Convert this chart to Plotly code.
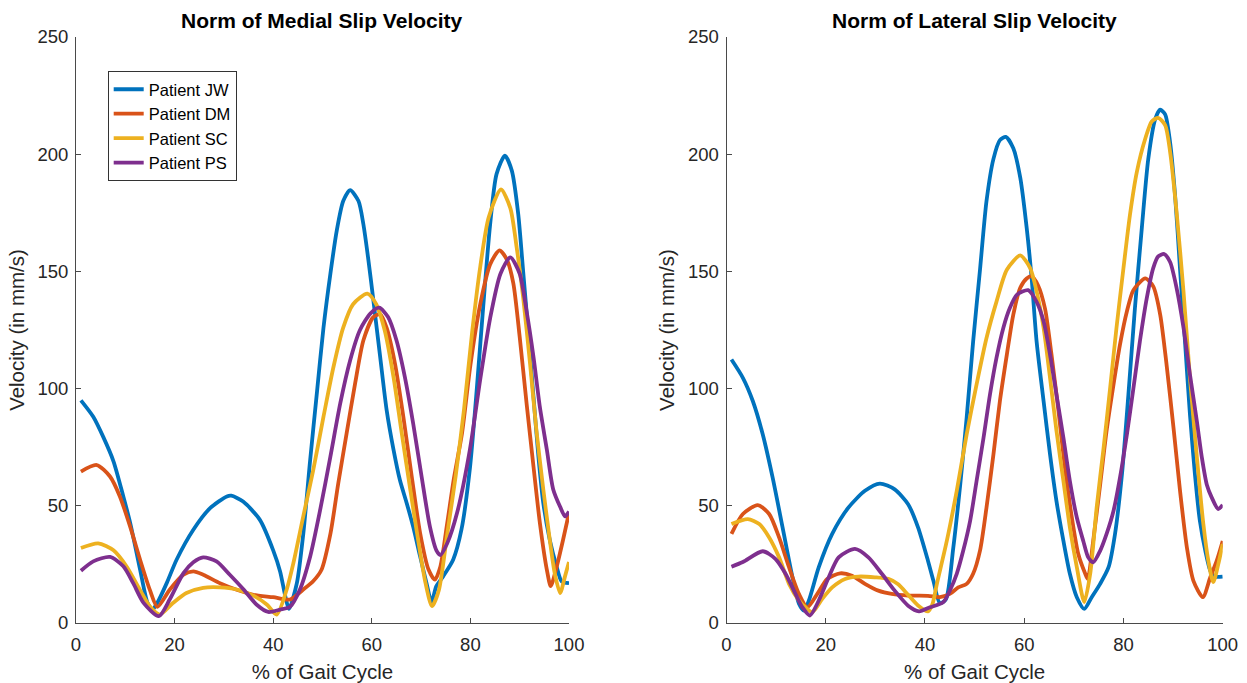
import plotly.graph_objects as go

# ---------------- data ----------------
patients = ["Patient JW", "Patient DM", "Patient SC", "Patient PS"]
colors = ["#0072BD", "#D95319", "#EDB120", "#7E2F8E"]

# Medial slip velocity
jw_m_x = [1, 3.5, 5.5, 7.6, 9.6, 11, 13, 14.5, 15.5, 16.5, 18.4, 20.4, 23.8, 27.2, 30.6, 31.5, 33.9, 37.3, 40, 41.4, 42.5, 43.2, 44.8, 46.1, 47.5, 48.9, 50.2, 51.6, 52.9, 54.2, 55.6, 57.3, 58.3, 59.3, 60.3, 61.7, 63, 64.4, 65.7, 67.1, 68.4, 69.8, 71.1, 72.1, 73.1, 74.5, 76.5, 78.2, 79.9, 81.3, 82.6, 84, 85.3, 87, 88.4, 89.7, 90.7, 91.7, 92.8, 93.8, 94.8, 96.1, 97.5, 98.5, 100]
jw_m_y = [95, 88, 79.5, 69, 54, 42.6, 22.8, 8.6, 5.7, 8.6, 17, 27, 39.8, 49, 54, 54.3, 51.8, 44, 31, 22, 11, 6, 17, 38, 69.6, 99, 126, 149, 167.5, 180, 184.7, 180, 170, 155, 138, 113.5, 91, 74, 61, 51, 41, 28.4, 17, 9, 15.7, 20, 27, 40, 66, 100, 135, 170, 191.5, 199.4, 193, 174.5, 150, 125, 96.5, 71, 51, 35.5, 24, 17.8, 17]

dm_m_x = [1, 4.2, 6.9, 8.9, 11, 13, 15, 16.5, 19, 21.8, 23.8, 25.8, 29.2, 32.6, 36, 40, 43.4, 46.1, 48.1, 49.8, 51.6, 53.2, 54.9, 56.6, 58.3, 60.3, 61.7, 63, 64.7, 66.4, 68.1, 69.8, 71.5, 72.8, 73.9, 75.3, 76.6, 78.3, 80, 82, 84, 85.9, 87.4, 88.7, 90, 91.4, 92.8, 94.1, 95.5, 96.3, 97.5, 98.8, 100]
dm_m_y = [64.6, 67.4, 62.5, 54, 41, 27, 14, 6.9, 14.2, 20.6, 22, 20.6, 17, 14.2, 12, 11, 10, 14.3, 17.8, 22.7, 38, 59.6, 81, 102, 120.6, 130.5, 131.7, 126, 110.7, 88, 62.5, 38.4, 22.8, 18.5, 24, 42.6, 61, 81, 110, 136, 153, 159, 155, 145, 122, 93.6, 66.7, 42.6, 22.8, 15.7, 24, 35.5, 47]

sc_m_x = [1, 4.5, 7.6, 10.3, 13, 15, 17, 19.7, 22.4, 25.8, 29.2, 32.6, 36, 38.7, 40.7, 42.7, 44.1, 46.1, 48.1, 50.2, 52.2, 54.2, 56.2, 59.1, 60.9, 62.6, 64.4, 66, 67.8, 69.5, 70.9, 72.2, 73.6, 75.3, 77, 78.7, 80.4, 82, 83.7, 86.2, 88.1, 89.4, 90.7, 92.1, 93.4, 94.8, 96.1, 97.1, 98.2, 99.2, 100]
sc_m_y = [32, 34, 31, 24, 14, 7, 3.6, 8.6, 12.8, 15, 15.2, 14.3, 11.7, 7.9, 3.6, 14, 25.6, 45.5, 65, 88, 109, 126, 136, 140.5, 136, 125, 105, 82, 57, 34, 17, 7.2, 14, 38, 62.5, 91, 125, 152, 173, 185, 177, 160, 139, 110.7, 82, 56.8, 35.5, 21.3, 12.8, 20, 26]

ps_m_x = [1, 3.5, 6.9, 9.6, 11.6, 13.7, 16.8, 19, 21.8, 23.8, 25.8, 28.5, 31.2, 34, 36.6, 39, 41.4, 43.4, 45.4, 47.5, 49.5, 51.6, 53.6, 55.6, 57.6, 59.7, 61.5, 63.3, 65, 66.7, 68.4, 70.1, 71.8, 73.1, 73.9, 75.3, 77.3, 79.9, 82, 84, 86.1, 88.1, 90, 91.4, 92.8, 94.1, 95.5, 96.8, 98.2, 99.2, 100]
ps_m_y = [22.3, 26.3, 28.2, 24.2, 17, 8.6, 2.9, 10, 21.3, 25.9, 28, 26.3, 20.6, 14.3, 7.9, 4.7, 5.7, 6.9, 14.2, 28.4, 48, 71, 93.7, 112, 125, 132, 134.5, 130.5, 120.6, 105, 85, 62.5, 41, 31, 29, 34, 47, 74, 104, 130, 149, 156, 149, 133, 113.5, 92, 74, 57, 49.6, 45.5, 47.6]

# Lateral slip velocity
jw_l_x = [1, 3.3, 5.3, 7.3, 9.3, 11.3, 13.3, 14.6, 15.6, 16.6, 18.6, 21.3, 24.6, 27.9, 30.9, 33.9, 36.6, 38.6, 40.6, 41.7, 43, 44.2, 45.7, 47.1, 48.4, 49.7, 51.1, 52.4, 53.8, 55.1, 56.3, 57.8, 59.2, 60.5, 61.5, 62.5, 63.9, 65.2, 66.5, 67.9, 69.2, 70.6, 72.1, 73.6, 75.3, 77, 78.3, 79.7, 81, 82.3, 83.7, 85, 86.4, 87.4, 88.4, 89.4, 90.4, 91.4, 92.4, 93.4, 94.4, 95.4, 96.5, 97.5, 98.3, 100]
jw_l_y = [112.4, 104.6, 94.7, 80.5, 62, 40.8, 19.5, 8.2, 5.3, 9.6, 23.8, 38, 49.3, 56.4, 59.5, 57, 50.7, 40.8, 26.6, 18, 8.5, 10, 32, 59, 87.6, 120, 151, 180, 198, 206, 207.4, 202.5, 190, 168.5, 147, 120, 94.7, 72, 52, 35, 21, 11, 6, 11, 16.7, 23.8, 38, 63.5, 97.5, 134, 168.5, 198, 215, 219, 217, 205, 182.6, 151, 120, 89, 63.5, 43.6, 30.8, 22.3, 19.8, 19.8]

dm_l_x = [1, 3.3, 6.3, 8.6, 10.6, 12.6, 14.6, 16.3, 18.3, 20.3, 22.9, 25.3, 27.9, 30.6, 33.3, 36.6, 40.6, 43, 45, 46.7, 48.4, 49.7, 51.1, 52.4, 53.8, 55.1, 56.5, 57.8, 59.2, 60.5, 61.5, 62.8, 64.2, 65.5, 66.9, 68.2, 69.6, 70.9, 72.3, 72.8, 73.9, 75.3, 76.6, 78, 79.3, 80.7, 82, 84.4, 86, 87.4, 88.7, 90.1, 91.4, 92.8, 94.1, 96, 97.5, 98.8, 100]
dm_l_y = [38, 46.5, 50.3, 46.5, 36.5, 23.8, 12.4, 6.7, 12.4, 18.8, 21.2, 20.2, 16.7, 13.8, 12.4, 11.7, 11.6, 11, 12.4, 15.2, 16.7, 21, 31, 49.3, 72, 94.7, 114.5, 131.6, 143, 147, 147.9, 144, 134, 114.5, 90.4, 66.3, 45, 29.4, 21, 18.8, 35, 59, 82, 101.8, 118.8, 133, 142, 147, 143.6, 131.6, 110, 83, 56.4, 32, 18, 11, 19.5, 26.6, 35]

sc_l_x = [1, 4.3, 6.6, 8.6, 10.6, 12.6, 14.6, 15.9, 17.3, 19.3, 21.3, 23.9, 26.6, 29.9, 32.6, 34.6, 36.6, 38.6, 40.6, 41.5, 42.4, 44.4, 46.4, 48.4, 50.4, 52.4, 54.4, 56.5, 59.2, 61.2, 62.5, 63.9, 65.2, 66.5, 67.9, 69.2, 70.6, 72.1, 73.3, 74.6, 76, 77.3, 78.6, 80, 81.3, 82.7, 84.4, 85.7, 87, 88.4, 89.4, 90.7, 92.1, 93.4, 94.8, 96.1, 97.1, 98.1, 99.1, 100]
sc_l_y = [42.2, 44.3, 42.2, 36.5, 28, 16.7, 9.6, 6.7, 4.6, 10.3, 15.2, 18.8, 19.8, 19.5, 18.8, 16.5, 12, 7.5, 5, 8, 16.7, 35, 56.4, 80.5, 101.8, 121.6, 137, 150.7, 156.8, 151.4, 141.5, 126, 104.6, 82, 60.6, 40.8, 23.8, 8.9, 21, 49.3, 74.8, 100, 126, 151.4, 174, 192.5, 206.7, 214, 215.5, 212.4, 201, 175.5, 141.5, 104.6, 70.6, 42.2, 26.6, 17.4, 25, 33.7]

ps_l_x = [1, 3.3, 7.3, 9.9, 11.9, 13.9, 15.3, 16.8, 18.6, 20.6, 22.6, 25.9, 28.6, 31.3, 33.9, 36.6, 38.8, 41, 43.7, 45, 46.4, 47.7, 49.1, 50.4, 51.8, 53.1, 54.4, 55.8, 57.1, 58.5, 60.8, 62.5, 63.9, 65.2, 66.5, 67.9, 69.2, 70.6, 71.9, 72.9, 73.9, 75.3, 76.6, 78, 79.3, 80.7, 82, 83.3, 84.7, 86, 87, 88.2, 89.4, 90.7, 92.1, 93.4, 94.8, 95.8, 96.8, 97.8, 99.1, 100]
ps_l_y = [24, 26, 30.6, 27.3, 21, 12.4, 6.7, 3.2, 9.6, 19.5, 28, 31.6, 28, 21, 13.8, 7.4, 5, 6.7, 8.9, 13.8, 21, 30.8, 43.6, 60.6, 79, 97.5, 113, 126, 134.4, 140, 142, 137, 128.7, 114.5, 97.5, 79, 60.6, 45, 35, 28, 25.9, 30.8, 38, 47.9, 62, 80.5, 100, 120, 138.6, 151.4, 156.4, 157.4, 154, 143, 126, 106, 86, 70.6, 59, 53.5, 48.6, 50.4]

titles = ["Norm of Medial Slip Velocity", "Norm of Lateral Slip Velocity"]
x_title = "% of Gait Cycle"
y_title = "Velocity (in mm/s)"
x_ticks = [0, 20, 40, 60, 80, 100]
y_ticks = [0, 50, 100, 150, 200, 250]

medial = [(jw_m_x, jw_m_y), (dm_m_x, dm_m_y), (sc_m_x, sc_m_y), (ps_m_x, ps_m_y)]
lateral = [(jw_l_x, jw_l_y), (dm_l_x, dm_l_y), (sc_l_x, sc_l_y), (ps_l_x, ps_l_y)]

# ---------------- figure ----------------
W, H = 1247, 683
FONT = "Liberation Sans, Arial, Helvetica, sans-serif"
AX = "#4a4a4a"
TXT = "#262626"

fig = go.Figure()
for panel, (series, xa, ya) in enumerate([(medial, "x", "y"), (lateral, "x2", "y2")]):
    for i, (xs, ys) in enumerate(series):
        fig.add_trace(go.Scatter(
            x=xs, y=ys, mode="lines", name=patients[i],
            line=dict(color=colors[i], width=3.8, shape="spline", smoothing=0.7),
            xaxis=xa, yaxis=ya, showlegend=(panel == 0),
        ))

xdom1 = [76 / W, 569 / W]
xdom2 = [726.5 / W, 1222.7 / W]
ydom = [(H - 623) / H, (H - 37) / H]

def xaxis(dom, anchor):
    return dict(domain=dom, anchor=anchor, range=[0, 100], tickvals=x_ticks,
                showline=True, linecolor=AX, linewidth=1, ticks="inside", ticklen=5,
                tickcolor=AX, showgrid=False, zeroline=False, mirror=False,
                tickfont=dict(family=FONT, size=18.5, color=TXT), ticklabelstandoff=5,
                title=dict(text=x_title, font=dict(family=FONT, size=20.5, color=TXT), standoff=10),
                automargin=False)

def yaxis(anchor):
    return dict(domain=ydom, anchor=anchor, range=[0, 250], tickvals=y_ticks,
                showline=True, linecolor=AX, linewidth=1, ticks="inside", ticklen=5,
                tickcolor=AX, showgrid=False, zeroline=False, mirror=False,
                tickfont=dict(family=FONT, size=18.5, color=TXT), ticklabelstandoff=3,
                title=dict(text=y_title, font=dict(family=FONT, size=20.5, color=TXT), standoff=7),
                automargin=False)

fig.update_layout(
    width=W, height=H,
    margin=dict(l=0, r=0, t=0, b=0),
    paper_bgcolor="white", plot_bgcolor="white",
    xaxis=xaxis(xdom1, "y"), yaxis=yaxis("x"),
    xaxis2=xaxis(xdom2, "y2"), yaxis2=yaxis("x2"),
    legend=dict(x=107.7 / W, y=1 - 71 / H, xanchor="left", yanchor="top",
                bgcolor="white", bordercolor="#333333", borderwidth=1,
                font=dict(family=FONT, size=16.5, color="black"),
                tracegroupgap=0, itemwidth=30),
    showlegend=True,
)

for dom, t in zip([xdom1, xdom2], titles):
    fig.add_annotation(text="<b>" + t + "</b>", x=(dom[0] + dom[1]) / 2, y=1 - 20 / H,
                       xref="paper", yref="paper", xanchor="center", yanchor="middle",
                       showarrow=False, font=dict(family=FONT, size=21, color="black"))

fig.write_html("out.html", config={"displayModeBar": False},
               post_script="document.body.style.margin='0';")
